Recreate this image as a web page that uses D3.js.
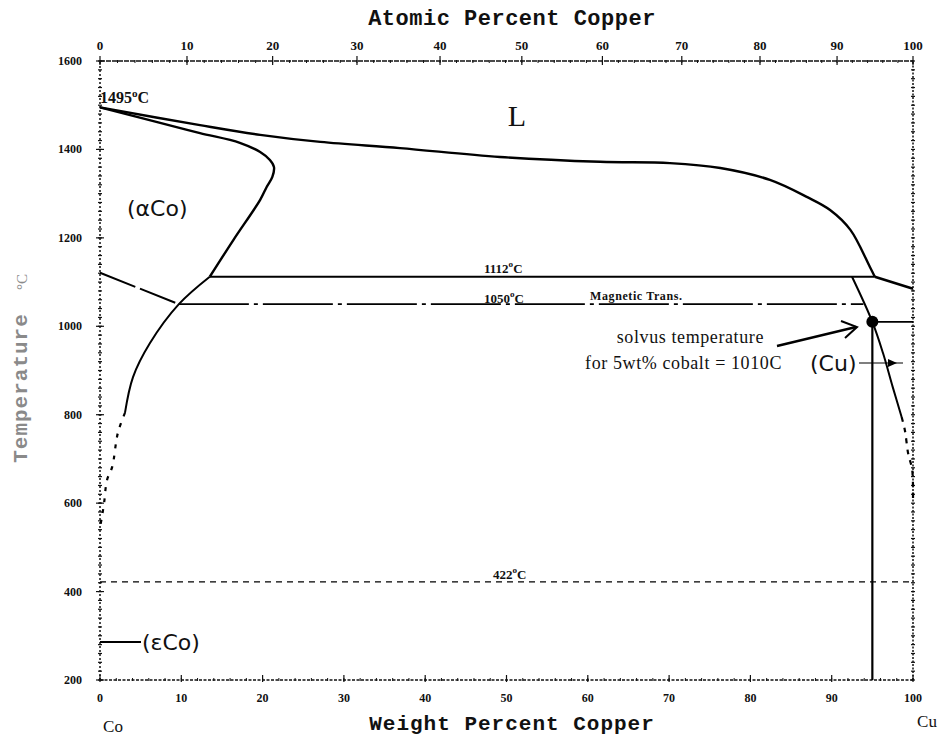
<!DOCTYPE html>
<html>
<head>
<meta charset="utf-8">
<script src="https://cdn.jsdelivr.net/npm/d3@7"></script>
<style>
  body { margin: 0; background: #fff; }
  text { fill: #111; }
</style>
</head>
<body>
<div id="canvas"></div>
<script>
// ---- data (x = weight % Cu, y = deg C) ----
let wtTicks = [0, 10, 20, 30, 40, 50, 60, 70, 80, 90, 100];
let atTicks = [0, 10, 20, 30, 40, 50, 60, 70, 80, 90, 100];
let tempTicks = [200, 400, 600, 800, 1000, 1200, 1400, 1600];

let liquidus = [[0, 1495], [12.3, 1455], [19.7, 1433], [27.1, 1417], [36.9, 1403], [49.2, 1383],
    [61.5, 1372], [70.1, 1369], [76.3, 1358], [82.4, 1331], [87.0, 1292], [89.8, 1263],
    [92.3, 1218], [94.7, 1134], [95.3, 1112]];
let alphaSolidus = [[0, 1495], [7.4, 1460], [12.3, 1437], [17.2, 1415], [19.7, 1394], [20.9, 1376],
    [21.4, 1360], [21.2, 1338], [20.5, 1315], [19.7, 1286], [16.4, 1195], [13.5, 1112]];
let alphaSolvus = [[13.5, 1112], [9.7, 1050], [6.15, 962], [4.06, 885], [3.07, 804]];
let alphaSolvusDotted = [[3.07, 804], [2.2, 759], [1.5, 682], [0.86, 652], [0.5, 600], [0.2, 565], [0, 545]];
let magneticCo = [[0, 1121], [9.7, 1050]];
let magneticLine = [[9.7, 1050], [93.9, 1050]];
let peritectic = [[13.5, 1112], [95.3, 1112]];
let cuSolidus = [[95.3, 1112], [100, 1085]];
let cuSolvus = [[92.5, 1112], [95, 1010], [96.3, 940], [97.5, 863], [98.6, 795]];
let cuSolvusDotted = [[98.6, 795], [99.0, 765], [99.4, 713], [99.9, 675], [100, 607]];
let eutectoid = [[0, 422], [100, 422]];
let solvusPoint = [95, 1010];

// atomic % -> weight % (Co 58.93, Cu 63.55)
function atToWt(a) {
    return 100 * a * 63.55 / (a * 63.55 + (100 - a) * 58.93);
}

let drawing = d3.select("#canvas")
    .append("svg")
    .attr("width", 946)
    .attr("height", 736);

drawing.append("rect").attr("width", 946).attr("height", 736).attr("fill", "#fff");

let x = d3.scaleLinear().domain([0, 100]).range([100, 913]);
let y = d3.scaleLinear().domain([200, 1600]).range([680, 61]);

let line = d3.line().x(d => x(d[0])).y(d => y(d[1]));
let smooth = d3.line().x(d => x(d[0])).y(d => y(d[1])).curve(d3.curveCatmullRom.alpha(0.5));

// ---- frame with the scanned, dotted look ----
let frame = drawing.append("g").attr("stroke", "#111").attr("fill", "none");
frame.append("line").attr("x1", x(0)).attr("x2", x(100)).attr("y1", y(1600)).attr("y2", y(1600))
    .attr("stroke-width", 1.6).attr("stroke-dasharray", "5,1");
frame.append("line").attr("x1", x(0)).attr("x2", x(100)).attr("y1", y(200)).attr("y2", y(200))
    .attr("stroke-width", 1.5).attr("stroke-dasharray", "3,1.5");
frame.append("line").attr("x1", x(0)).attr("x2", x(0)).attr("y1", y(200)).attr("y2", y(1600))
    .attr("stroke-width", 1.5).attr("stroke-dasharray", "2,2");
frame.append("line").attr("x1", x(100)).attr("x2", x(100)).attr("y1", y(200)).attr("y2", y(1600))
    .attr("stroke-width", 1.5).attr("stroke-dasharray", "2,1.5");

// minor ticks
let minorT = d3.range(200, 1601, 20);
frame.selectAll(".ml").data(minorT).join("line")
    .attr("x1", x(0) - 2).attr("x2", x(0) + 2).attr("y1", d => y(d)).attr("y2", d => y(d)).attr("stroke-width", 1.2);
frame.selectAll(".mr").data(minorT).join("line")
    .attr("x1", x(100) - 2).attr("x2", x(100) + 2).attr("y1", d => y(d)).attr("y2", d => y(d)).attr("stroke-width", 1.2);
frame.selectAll(".mb").data(d3.range(0, 101, 2)).join("line")
    .attr("x1", d => x(d)).attr("x2", d => x(d)).attr("y1", y(200) - 2).attr("y2", y(200) + 1).attr("stroke-width", 1);
frame.selectAll(".mt").data(d3.range(0, 101, 2)).join("line")
    .attr("x1", d => x(atToWt(d))).attr("x2", d => x(atToWt(d))).attr("y1", y(1600) - 1).attr("y2", y(1600) + 2).attr("stroke-width", 1);

// major ticks
frame.selectAll(".Mt").data(atTicks).join("line")
    .attr("x1", d => x(atToWt(d))).attr("x2", d => x(atToWt(d))).attr("y1", y(1600) - 5).attr("y2", y(1600) + 4).attr("stroke-width", 1.2);
frame.selectAll(".Mb").data(wtTicks).join("line")
    .attr("x1", d => x(d)).attr("x2", d => x(d)).attr("y1", y(200) - 5).attr("y2", y(200) + 2).attr("stroke-width", 1.2);
frame.selectAll(".Ml").data(tempTicks).join("line")
    .attr("x1", x(0) - 4).attr("x2", x(0) + 4).attr("y1", d => y(d)).attr("y2", d => y(d)).attr("stroke-width", 1.2);

// tick labels
let tickFont = "'Liberation Serif', serif";
drawing.selectAll(".tlTop").data(atTicks).join("text")
    .attr("x", d => x(atToWt(d))).attr("y", 50)
    .attr("text-anchor", "middle").attr("font-family", tickFont).attr("font-weight", "bold").attr("font-size", 13)
    .text(d => d);
drawing.selectAll(".tlBot").data(wtTicks).join("text")
    .attr("x", d => x(d)).attr("y", 702)
    .attr("text-anchor", "middle").attr("font-family", tickFont).attr("font-weight", "bold").attr("font-size", 12)
    .text(d => d);
drawing.selectAll(".tlLeft").data(tempTicks).join("text")
    .attr("x", 82).attr("y", d => y(d) + 4)
    .attr("text-anchor", "end").attr("font-family", tickFont).attr("font-weight", "bold").attr("font-size", 12)
    .text(d => d);

// axis titles
let titleFont = "'Liberation Mono', monospace";
drawing.append("text").attr("x", 512).attr("y", 25).attr("text-anchor", "middle")
    .attr("font-family", titleFont).attr("font-weight", "bold").attr("font-size", 22).attr("letter-spacing", 0.5)
    .text("Atomic Percent Copper");
drawing.append("text").attr("x", 512).attr("y", 730).attr("text-anchor", "middle")
    .attr("font-family", titleFont).attr("font-weight", "bold").attr("font-size", 21).attr("letter-spacing", 1)
    .text("Weight Percent Copper");
drawing.append("text").attr("transform", "translate(27,388) rotate(-90)").attr("text-anchor", "middle")
    .attr("font-family", titleFont).attr("font-weight", "bold").attr("font-size", 21).attr("letter-spacing", 1)
    .style("fill", "#8a8a8a")
    .text("Temperature");
drawing.append("text").attr("transform", "translate(27,282) rotate(-90)").attr("text-anchor", "middle")
    .attr("font-family", tickFont).attr("font-size", 15).style("fill", "#8a8a8a")
    .text("°C");

drawing.append("text").attr("x", 113).attr("y", 732).attr("text-anchor", "middle")
    .attr("font-family", tickFont).attr("font-size", 17).text("Co");
drawing.append("text").attr("x", 927).attr("y", 727).attr("text-anchor", "middle")
    .attr("font-family", tickFont).attr("font-size", 17).text("Cu");

// ---- phase boundaries ----
let lines = drawing.append("g").attr("fill", "none").attr("stroke", "#000");
lines.append("path").attr("d", smooth(liquidus)).attr("stroke-width", 2.4);
lines.append("path").attr("d", smooth(alphaSolidus)).attr("stroke-width", 2.4);
lines.append("path").attr("d", smooth(alphaSolvus)).attr("stroke-width", 2);
lines.append("path").attr("d", smooth(alphaSolvusDotted)).attr("stroke-width", 2.2).attr("stroke-dasharray", "4,7");
lines.append("path").attr("d", line(magneticCo)).attr("stroke-width", 2).attr("stroke-dasharray", "38,5");
lines.append("path").attr("d", line(magneticLine)).attr("stroke-width", 1.8).attr("stroke-dasharray", "70,5,4,5");
lines.append("path").attr("d", line(peritectic)).attr("stroke-width", 2);
lines.append("path").attr("d", line(cuSolidus)).attr("stroke-width", 2.6);
lines.append("path").attr("d", smooth(cuSolvus)).attr("stroke-width", 2);
lines.append("path").attr("d", smooth(cuSolvusDotted)).attr("stroke-width", 2.2).attr("stroke-dasharray", "5,6");
lines.append("path").attr("d", line(eutectoid)).attr("stroke-width", 1.4).attr("stroke-dasharray", "6,5");

// 5 wt% cobalt alloy: vertical line, point and solvus marker
lines.append("line").attr("x1", x(solvusPoint[0])).attr("x2", x(solvusPoint[0]))
    .attr("y1", y(solvusPoint[1])).attr("y2", y(200)).attr("stroke-width", 2.2);
lines.append("line").attr("x1", x(solvusPoint[0])).attr("x2", x(100))
    .attr("y1", y(solvusPoint[1])).attr("y2", y(solvusPoint[1])).attr("stroke-width", 1.6);
drawing.append("circle").attr("cx", x(solvusPoint[0])).attr("cy", y(solvusPoint[1])).attr("r", 6).attr("fill", "#000");

// ---- labels ----
function degLabel(px, py, value, size) {
    let t = drawing.append("text").attr("x", px).attr("y", py)
        .attr("font-family", tickFont).attr("font-weight", "bold").attr("font-size", size);
    t.append("tspan").text(value);
    t.append("tspan").attr("dy", -6).attr("font-size", size * 0.7).text("o");
    t.append("tspan").attr("dy", 6).text("C");
}
degLabel(100, 103, "1495", 16);
degLabel(484, 273, "1112", 13);
degLabel(484, 303, "1050", 13);
degLabel(493, 579, "422", 13);

drawing.append("text").attr("x", 590).attr("y", 300)
    .attr("font-family", tickFont).attr("font-weight", "bold").attr("font-size", 12).attr("letter-spacing", 0.6)
    .text("Magnetic Trans.");

drawing.append("text").attr("x", 517).attr("y", 126).attr("text-anchor", "middle")
    .attr("font-family", tickFont).attr("font-size", 30).text("L");

let phaseFont = "'DejaVu Sans', sans-serif";
drawing.append("text").attr("x", 127).attr("y", 216)
    .attr("font-family", phaseFont).attr("font-size", 22).text("(αCo)");
drawing.append("text").attr("x", 810).attr("y", 371)
    .attr("font-family", phaseFont).attr("font-size", 22).text("(Cu)");
drawing.append("text").attr("x", 142).attr("y", 650)
    .attr("font-family", phaseFont).attr("font-size", 22).text("(εCo)");

// εCo pointer
lines.append("line").attr("x1", x(0)).attr("x2", 141).attr("y1", 642).attr("y2", 642).attr("stroke-width", 2);
// Cu pointer
lines.append("line").attr("x1", 859).attr("x2", 903).attr("y1", 363).attr("y2", 363).attr("stroke-width", 1.2);
drawing.append("path").attr("d", d3.line()([[888, 359], [897, 363], [888, 367]])).attr("fill", "#000");

// solvus annotation
drawing.append("text").attr("x", 764).attr("y", 343).attr("text-anchor", "end")
    .attr("font-family", tickFont).attr("font-size", 18).attr("letter-spacing", 0.6)
    .text("solvus temperature");
drawing.append("text").attr("x", 782).attr("y", 369).attr("text-anchor", "end")
    .attr("font-family", tickFont).attr("font-size", 18).attr("letter-spacing", 0.6)
    .text("for 5wt% cobalt = 1010C");
lines.append("line").attr("x1", 777).attr("y1", 346).attr("x2", 856).attr("y2", 327).attr("stroke-width", 2.4);
lines.append("path").attr("d", d3.line()([[841, 321], [857, 327], [845, 338]])).attr("stroke-width", 2);
</script>
</body>
</html>
